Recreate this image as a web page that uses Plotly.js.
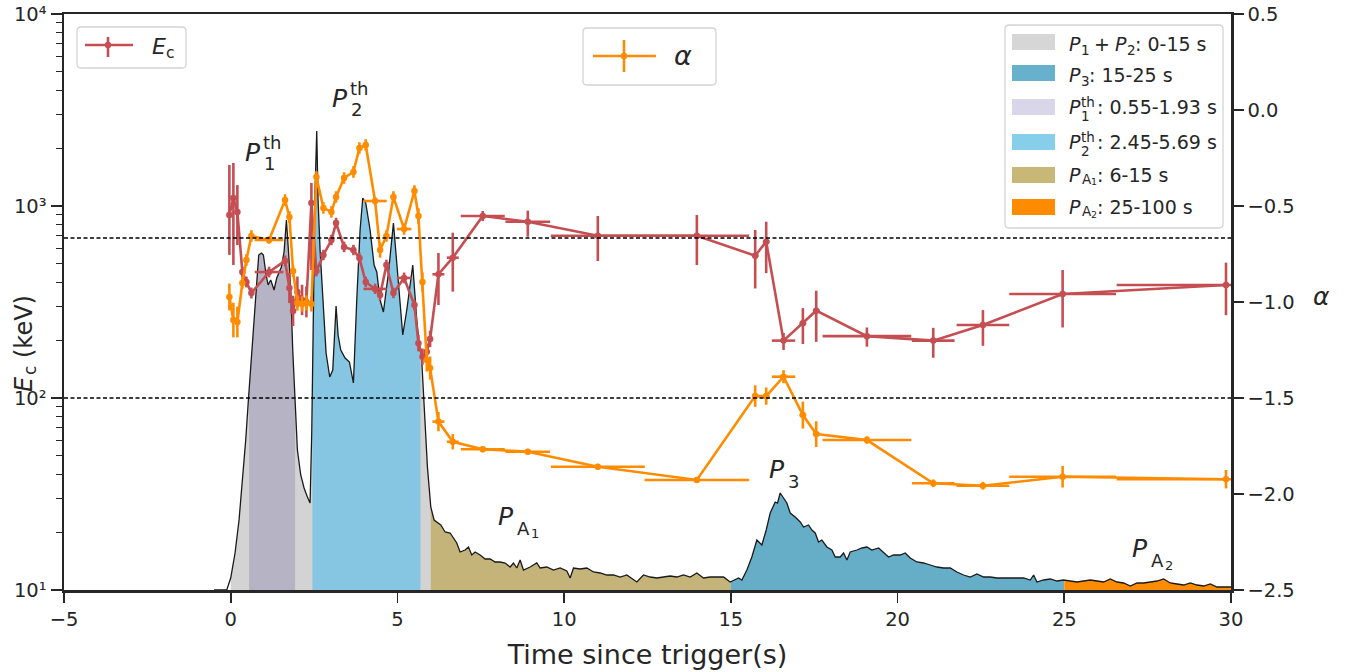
<!DOCTYPE html>
<html><head><meta charset="utf-8">
<script src="https://cdn.plot.ly/plotly-3.0.1.min.js"></script>
<style>html,body{margin:0;padding:0;background:#fff}#chart{width:1359px;height:672px}</style>
</head><body><div id="chart"></div>
<script>
// ---------------- DATA ----------------
// light curve (time in s, background-subtracted rate, arbitrary counts/s)
const lcTime = [-0.5,-0.12,0.0,0.13,0.25,0.36,0.45,0.53,0.63,0.73,0.84,0.92,0.98,1.05,1.12,1.2,1.3,1.38,1.45,1.52,1.6,1.67,1.74,1.8,1.86,1.92,2.0,2.1,2.2,2.3,2.38,2.43,2.48,2.53,2.58,2.62,2.68,2.77,2.86,2.97,3.06,3.16,3.22,3.3,3.43,3.56,3.68,3.78,3.88,3.96,4.05,4.18,4.3,4.38,4.48,4.58,4.66,4.73,4.88,4.98,5.08,5.16,5.28,5.38,5.46,5.58,5.66,5.72,5.8,5.9,6.0,6.1,6.3,6.43,6.58,6.68,6.78,6.88,7.03,7.13,7.23,7.33,7.48,7.63,7.78,7.93,8.08,8.23,8.38,8.48,8.58,8.68,8.78,8.98,9.18,9.28,9.48,9.68,9.88,10.08,10.18,10.28,10.48,10.68,10.88,11.08,11.28,11.48,11.68,11.88,12.18,12.38,12.58,12.78,12.98,13.18,13.38,13.58,13.78,13.98,14.18,14.38,14.58,14.78,14.98,15.13,15.23,15.33,15.48,15.63,15.78,15.93,16.06,16.18,16.33,16.4,16.48,16.58,16.68,16.78,16.93,17.08,17.18,17.33,17.43,17.53,17.63,17.73,17.88,18.03,18.13,18.28,18.38,18.48,18.58,18.78,18.93,19.08,19.23,19.43,19.58,19.73,19.88,20.08,20.23,20.38,20.58,20.78,20.98,21.18,21.38,21.58,21.78,21.98,22.18,22.38,22.58,22.78,22.98,23.18,23.38,23.58,23.78,23.98,24.08,24.18,24.38,24.58,24.78,24.98,25.18,25.38,25.58,25.78,25.98,26.18,26.38,26.58,26.78,26.98,27.18,27.38,27.58,27.78,27.98,28.18,28.38,28.58,28.78,28.98,29.18,29.38,29.58,29.78,29.93,30.2];
const lcRate = [0,0,120,370,700,1100,1500,1900,2400,2900,3350,3370,3350,3180,3050,3100,3000,3120,3180,3230,3380,3700,3350,3000,2400,1900,1400,1150,1020,930,870,1570,2900,4000,4590,3900,3400,2900,2370,2130,2200,2840,2550,2400,2320,2280,2070,2900,3600,3920,3870,3600,3250,3180,2900,2780,3000,3170,3670,3300,2870,2550,2800,3050,3250,2700,2430,2350,1900,1230,830,700,650,580,570,520,470,380,400,430,350,380,350,310,310,280,280,270,230,270,220,300,200,230,270,220,230,200,220,190,120,220,210,220,180,170,150,150,130,150,80,150,130,120,130,140,130,150,130,170,120,130,130,130,80,100,120,100,200,330,500,450,600,770,880,870,970,920,870,770,730,680,630,650,600,570,480,500,430,400,330,330,370,300,380,400,420,430,400,420,370,330,350,350,370,320,280,270,250,230,220,220,180,150,130,160,130,130,120,120,120,120,120,100,150,80,100,110,90,100,90,80,90,100,90,80,110,80,70,40,70,70,80,90,110,70,60,50,70,50,40,60,30,30,30,30];

// time-resolved spectral fits
const binTime = [-0.04,0.08,0.20,0.35,0.47,0.62,1.15,1.63,1.76,1.87,2.00,2.14,2.27,2.42,2.57,2.78,3.02,3.16,3.40,3.68,3.86,4.05,4.33,4.48,4.67,4.88,5.20,5.51,5.63,5.75,5.88,5.98,6.23,6.66,7.56,8.91,11.01,13.98,15.73,16.06,16.58,17.16,17.56,19.08,21.07,22.56,24.95,29.85];
const binHalfWidth = [0.04,0.04,0.05,0.05,0.05,0.06,0.43,0.05,0.05,0.05,0.05,0.06,0.06,0.05,0.05,0.08,0.08,0.06,0.08,0.08,0.06,0.06,0.35,0.06,0.08,0.08,0.22,0.06,0.05,0.05,0.05,0.05,0.18,0.18,0.66,0.67,1.41,1.57,0.10,0.10,0.35,0.10,0.10,1.33,0.64,0.79,1.60,3.28];
const ecValue = [898,1101,931,453,402,352,453,518,374,284,357,324,316,1038,458,556,665,815,612,590,536,402,370,344,493,352,422,305,193,164,174,203,441,538,887,828,700,700,551,652,199,245,285,210,199,240,348,388];
const ecErrPlus = [739,574,354,30,27,24,30,35,75,57,72,65,64,280,30,36,43,53,40,38,35,26,24,23,32,23,28,20,20,17,18,21,128,188,55,118,187,198,199,176,19,49,77,23,33,47,116,119];
const ecErrMinus = [342,608,305,28,25,22,28,32,62,47,60,54,53,574,28,34,40,50,37,36,33,24,22,21,30,21,26,18,18,15,16,19,136,180,52,136,183,207,179,205,21,54,89,25,37,53,115,118];
const alphaValue = [-0.974,-1.094,-1.104,-0.901,-0.781,-0.656,-0.677,-0.469,-0.557,-0.839,-1.005,-1.010,-1.005,-1.010,-0.349,-0.510,-0.531,-0.453,-0.354,-0.323,-0.198,-0.182,-0.474,-0.729,-0.656,-0.453,-0.620,-0.422,-0.552,-0.896,-1.302,-1.344,-1.623,-1.728,-1.767,-1.780,-1.858,-1.927,-1.490,-1.490,-1.389,-1.589,-1.688,-1.719,-1.944,-1.957,-1.910,-1.923];
const alphaErr = [0.07,0.09,0.08,0.03,0.03,0.03,0.02,0.03,0.03,0.03,0.04,0.04,0.04,0.04,0.03,0.03,0.03,0.03,0.03,0.03,0.03,0.03,0.02,0.04,0.03,0.03,0.03,0.03,0.04,0.05,0.06,0.06,0.05,0.04,0.015,0.015,0.015,0.015,0.056,0.045,0.034,0.07,0.067,0.02,0.02,0.02,0.056,0.048];

// synchrotron limits of alpha
const alphaLimits = [-2/3, -3/2];

// left axis ticks
const ecTickVals = [10, 100, 1000, 10000];
const ecTickText = ['10¹','10²','10³','10⁴'];

// emission intervals (drawing order)
const intervalName = ['P1+P2','P1th','P2th','PA1','P3','PA2'];
const intervalStart = [0, 0.55, 2.45, 6, 15, 25];
const intervalEnd = [15, 1.93, 5.69, 15, 25, 100];
const legendOrder = [0, 4, 1, 2, 3, 5];
const legendRange = ['0-15 s','15-25 s','0.55-1.93 s','2.45-5.69 s','6-15 s','25-100 s'];

// ---------------- STYLE ----------------
const FONT = 'DejaVu Sans';
const TXT = '#262626';
const RED = '#c44e52', ORANGE = '#ff8c00';
const fillColor = {'P1+P2':'#d3d3d3','P1th':'rgba(72,61,139,0.2)','P2th':'#86c6e2','PA1':'#c5b479','P3':'#66aec8','PA2':'#ff8c00'};
const swatchColor = {'P1+P2':'#d6d6d6','P1th':'#dad6ea','P2th':'#87ceeb','PA1':'#c8b878','P3':'#67b1cc','PA2':'#ff8c00'};

const PL=64, PR=1231, PT=14, PB=590;
const fx = px => (px-PL)/(PR-PL);
const fy = py => (PB-py)/(PB-PT);

function interpRate(x){
  if (x <= lcTime[0]) return lcRate[0];
  for (let i=0;i<lcTime.length-1;i++){
    if (x>=lcTime[i] && x<=lcTime[i+1]){
      const f=(x-lcTime[i])/(lcTime[i+1]-lcTime[i]);
      return lcRate[i]+f*(lcRate[i+1]-lcRate[i]);
    }
  }
  return lcRate[lcRate.length-1];
}
function clipCurve(a,b){
  const last = lcTime[lcTime.length-1];
  b = Math.min(b,last);
  const xs=[a], ys=[interpRate(a)];
  for (let i=0;i<lcTime.length;i++){ if (lcTime[i]>a && lcTime[i]<b){ xs.push(lcTime[i]); ys.push(lcRate[i]); } }
  xs.push(b); ys.push(interpRate(b));
  return {xs, ys};
}

const traces = [];
intervalName.forEach((n,i)=>{
  const c = clipCurve(intervalStart[i], intervalEnd[i]);
  traces.push({type:'scatter', mode:'lines', x:c.xs, y:c.ys, xaxis:'x', yaxis:'y',
    fill:'tozeroy', fillcolor:fillColor[n], line:{width:0, color:'rgba(0,0,0,0)'}, hoverinfo:'skip', showlegend:false});
});
traces.push({type:'scatter', mode:'lines', x:lcTime, y:lcRate, xaxis:'x', yaxis:'y',
  line:{color:'#1a1a1a', width:1.3}, hoverinfo:'skip', showlegend:false});

traces.push({type:'scatter', mode:'lines+markers', x:binTime, y:ecValue, xaxis:'x', yaxis:'y2',
  line:{color:RED, width:2.6}, marker:{color:RED, size:6.5},
  error_x:{type:'data', array:binHalfWidth, color:RED, thickness:2.6, width:0},
  error_y:{type:'data', symmetric:false, array:ecErrPlus, arrayminus:ecErrMinus, color:RED, thickness:2.6, width:0},
  showlegend:false, name:'Ec'});
traces.push({type:'scatter', mode:'lines+markers', x:binTime, y:alphaValue, xaxis:'x', yaxis:'y3',
  line:{color:ORANGE, width:2.6}, marker:{color:ORANGE, size:6.5},
  error_x:{type:'data', array:binHalfWidth, color:ORANGE, thickness:2.6, width:0},
  error_y:{type:'data', array:alphaErr, color:ORANGE, thickness:2.6, width:0},
  showlegend:false, name:'alpha'});

// ---------- shapes ----------
function rrect(x0,y0,x1,y1,r){
  const X=fx, Y=fy;
  return `M${X(x0+r)},${Y(y0)} L${X(x1-r)},${Y(y0)} Q${X(x1)},${Y(y0)} ${X(x1)},${Y(y0+r)} L${X(x1)},${Y(y1-r)} Q${X(x1)},${Y(y1)} ${X(x1-r)},${Y(y1)} L${X(x0+r)},${Y(y1)} Q${X(x0)},${Y(y1)} ${X(x0)},${Y(y1-r)} L${X(x0)},${Y(y0+r)} Q${X(x0)},${Y(y0)} ${X(x0+r)},${Y(y0)} Z`;
}
const shapes = [];
alphaLimits.forEach(v=>shapes.push({type:'line', xref:'paper', yref:'y3', x0:0, x1:1, y0:v, y1:v, layer:'above',
  line:{color:'#000000', width:1.3, dash:'4px,2.5px'}}));
function box(x0,y0,x1,y1){ shapes.push({type:'path', xref:'paper', yref:'paper', path:rrect(x0,y0,x1,y1,4), layer:'above',
  fillcolor:'rgba(255,255,255,0.85)', line:{color:'#d4d4d4', width:1.3}}); }
function pline(x0,y0,x1,y1,color,w){ shapes.push({type:'line', xref:'paper', yref:'paper', x0:fx(x0), x1:fx(x1), y0:fy(y0), y1:fy(y1), layer:'above', line:{color, width:w}}); }
function dot(px,py,r,color){ shapes.push({type:'circle', xref:'paper', yref:'paper', x0:fx(px-r), x1:fx(px+r), y0:fy(py+r), y1:fy(py-r), layer:'above', fillcolor:color, line:{color, width:0}}); }
function rect(x0,y0,x1,y1,color){ shapes.push({type:'rect', xref:'paper', yref:'paper', x0:fx(x0), x1:fx(x1), y0:fy(y1), y1:fy(y0), layer:'above', fillcolor:color, line:{width:0}}); }

box(77,27,186,68);
pline(85,45,133,45,RED,2.6); pline(108,37,108,57,RED,2.6); dot(108,45,3.2,RED);
box(583,28,716,85);
pline(593,56,656,56,ORANGE,2.6); pline(624,40,624,72,ORANGE,2.6); dot(624,56,3.2,ORANGE);
box(1005,25,1223,228);
const rowY = [42,73,107,142,175,207];
legendOrder.forEach((k,r)=>rect(1012,rowY[r]-8,1055,rowY[r]+8,swatchColor[intervalName[k]]));

// ---------- annotations (sub/superscripts placed as separate texts) ----------
const ann = [];
function txt(text,px,py,size,extra){ ann.push(Object.assign({xref:'paper', yref:'paper', x:fx(px), y:fy(py), xanchor:'left', yanchor:'middle',
  text, showarrow:false, font:{family:FONT, size, color:TXT}, borderpad:0}, extra||{})); }

// E_c legend
txt('<i>E</i>',151,47,22);
txt('c',165,53,15.5);
// alpha legend
txt('<i>α</i>',673,55,27);

// interval legend labels
const LS = 19, SS = 13.5;
txt('<i>P</i>',1068,44,LS); txt('1',1079.5,50,SS); txt('+',1093,44,LS);
txt('<i>P</i>',1114,44,LS); txt('2',1125.5,50,SS); txt(': '+legendRange[0],1134,44,LS);
txt('<i>P</i>',1068,75,LS); txt('3',1079.5,81,SS); txt(': '+legendRange[1],1088,75,LS);
[[2,'1'],[3,'2']].forEach(([r,s])=>{
  txt('<i>P</i>',1068,rowY[r],LS);
  txt('th',1080,rowY[r]-5,SS);
  txt(s,1080,rowY[r]+9,SS);
  txt(': '+legendRange[r],1096,rowY[r],LS);
});
[[4,'1'],[5,'2']].forEach(([r,s])=>{
  txt('<i>P</i>',1068,rowY[r],LS);
  txt('A',1081,rowY[r]+4,SS);
  txt(s,1090,rowY[r]+7,9.5);
  txt(': '+legendRange[r],1096,rowY[r],LS);
});

// in-plot pulse labels
function bigP(px,py,sup,sub,sub2){
  txt('<i>P</i>',px,py,25);
  if (sup) txt(sup,px+18,py-10,18);
  if (sub) txt(sub,px+19,py+12,18);
  if (sub2) txt(sub2,px+33,py+17,13);
}
bigP(244,152,'th','1');
bigP(331,98,'th','2');
bigP(497,516,null,'A','1');
bigP(768,469,null,'3');
bigP(1131,548,null,'A','2');

// axis titles
txt('<i>E</i>',24,384,24,{xanchor:'center', textangle:-90});
txt('c',30,371,16.8,{xanchor:'center', textangle:-90});
txt('(keV)',24,327,24,{xanchor:'center', textangle:-90});
txt('<i>α</i>',1321,296,25,{xanchor:'center'});

const axisLine = {showline:true, linecolor:'#262626', linewidth:2.5, ticks:'outside', tickcolor:'#262626', tickwidth:1.6, ticklen:10,
  showgrid:false, zeroline:false, ticklabeloverflow:'allow', tickfont:{family:FONT, size:19.5, color:TXT}};

const minorVals = [];
for (let d=1; d<4; d++) for (let m=2; m<10; m++) minorVals.push(m*Math.pow(10,d));

const layout = {
  width:1359, height:672, margin:{l:PL, r:1359-PR, t:PT, b:672-PB},
  paper_bgcolor:'#fff', plot_bgcolor:'rgba(0,0,0,0)', showlegend:false,
  font:{family:FONT, color:TXT},
  xaxis:Object.assign({}, axisLine, {range:[-5,30], tick0:0, dtick:5, mirror:true,
    title:{text:'Time since trigger(s)', font:{family:FONT, size:27, color:TXT}, standoff:15}}),
  yaxis:{range:[0,5760], visible:false, fixedrange:true},
  yaxis2:Object.assign({}, axisLine, {overlaying:'y', side:'left', anchor:'x', type:'log', range:[0.99999,4.00001], ticklen:11,
    tickmode:'array', tickvals:ecTickVals, ticktext:ecTickText,
    minor:{tickmode:'array', tickvals:minorVals, ticks:'outside', ticklen:6, tickwidth:1.2, tickcolor:'#262626', showgrid:false}}),
  yaxis3:Object.assign({}, axisLine, {overlaying:'y', side:'right', anchor:'x', range:[-2.5,0.5], tick0:0, dtick:0.5, tickformat:'.1f'}),
  shapes, annotations:ann
};
Plotly.newPlot('chart', traces, layout, {displayModeBar:false, staticPlot:true});
</script></body></html>
